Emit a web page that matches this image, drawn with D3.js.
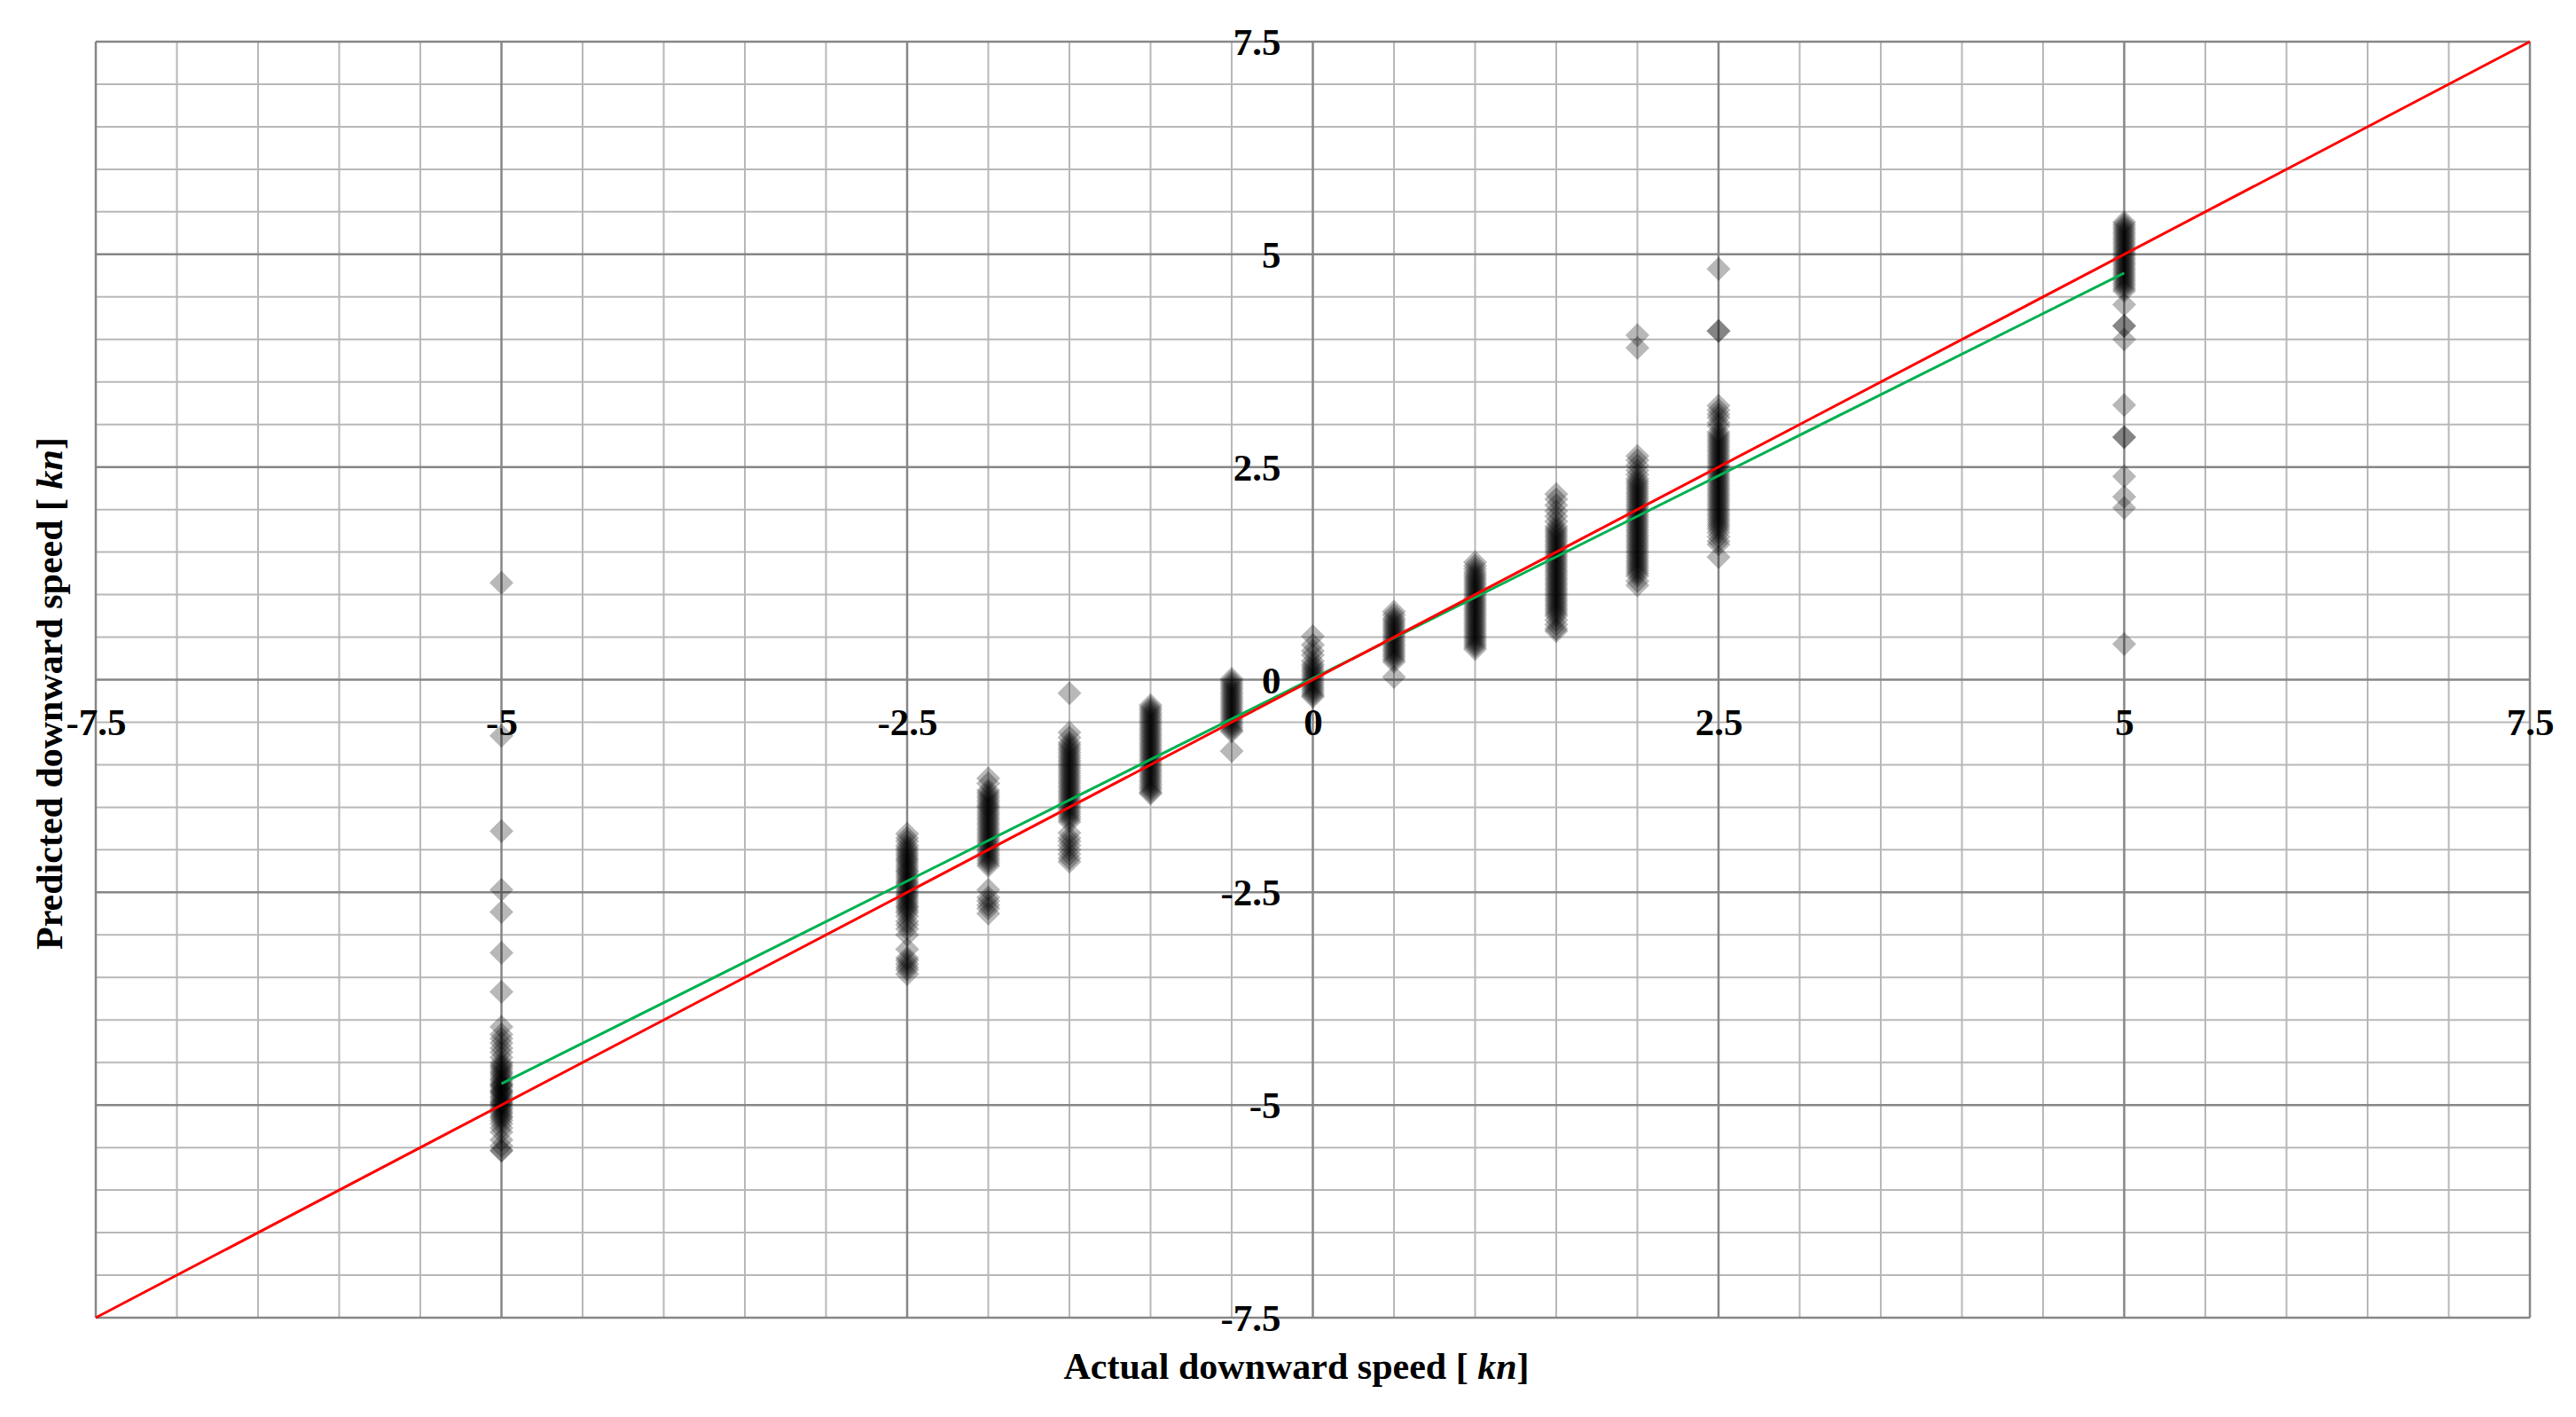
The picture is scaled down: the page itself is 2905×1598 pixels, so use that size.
<!DOCTYPE html>
<meta charset="utf-8">
<style>
body { margin: 0; background: #fff; }
.chart text { font-family: "Liberation Serif", serif; font-weight: bold; fill: #000; }
.tick-label { font-size: 43px; }
.axis-title { font-size: 42px; }
</style>
<svg class="chart"></svg>
<script src="https://cdn.jsdelivr.net/npm/d3@7"></script>
<script>

// actual speeds (x) where measurements were taken
var actualSpeeds = [-5, -2.5, -2, -1.5, -1, -0.5, 0, 0.5, 1, 1.5, 2, 2.5, 5];

// predicted speeds, one list per actual speed
var predAtMinus5 = [1.14, -0.66, -1.78, -2.47, -2.73, -3.21, -3.67, -4.08, -4.17, -4.22, -4.27, -4.33, -4.38, -4.44,
  -4.50, -4.53, -4.55, -4.58, -4.61, -4.63, -4.66, -4.69, -4.71, -4.74, -4.76, -4.77, -4.79, -4.82, -4.84, -4.85,
  -4.87, -4.90, -4.92, -4.95, -4.97, -4.98, -5.00, -5.03, -5.05, -5.08, -5.10, -5.13, -5.15, -5.18, -5.22, -5.27,
  -5.32, -5.41, -5.48, -5.53, -5.54];
var predAtMinus2_5 = [-1.81, -1.86, -1.90, -1.95, -1.98, -2.01, -2.04, -2.07, -2.10, -2.12, -2.15, -2.18, -2.21,
  -2.24, -2.26, -2.29, -2.32, -2.35, -2.38, -2.40, -2.43, -2.46, -2.49, -2.52, -2.54, -2.57, -2.60, -2.63, -2.66,
  -2.68, -2.71, -2.74, -2.78, -2.84, -2.88, -2.93, -3.00, -3.17, -3.27, -3.30, -3.34, -3.38, -3.41, -3.46];
var predAtMinus2 = [-1.16, -1.22, -1.30, -1.33, -1.36, -1.39, -1.42, -1.45, -1.48, -1.50, -1.53, -1.56, -1.59,
  -1.62, -1.65, -1.68, -1.71, -1.74, -1.77, -1.80, -1.83, -1.86, -1.89, -1.92, -1.95, -1.98, -2.01, -2.04, -2.07,
  -2.10, -2.13, -2.16, -2.19, -2.47, -2.56, -2.60, -2.65, -2.69, -2.75];
var predAtMinus1_5 = [-0.16, -0.62, -0.68, -0.74, -0.77, -0.80, -0.83, -0.86, -0.89, -0.92, -0.95, -0.98, -1.01,
  -1.04, -1.07, -1.10, -1.13, -1.16, -1.19, -1.22, -1.25, -1.28, -1.31, -1.34, -1.37, -1.40, -1.43, -1.46, -1.49,
  -1.52, -1.55, -1.58, -1.61, -1.64, -1.67, -1.80, -1.86, -1.90, -1.95, -2.00, -2.05, -2.10, -2.14];
var predAtMinus1 = [-0.30, -0.33, -0.36, -0.39, -0.42, -0.45, -0.48, -0.51, -0.54, -0.57, -0.60, -0.63, -0.66,
  -0.69, -0.72, -0.75, -0.78, -0.81, -0.84, -0.87, -0.90, -0.93, -0.96, -0.99, -1.02, -1.05, -1.08, -1.11, -1.14,
  -1.17, -1.20, -1.23, -1.26, -1.29, -1.32, -1.34];
var predAtMinus0_5 = [0.01, -0.02, -0.05, -0.08, -0.11, -0.14, -0.17, -0.20, -0.23, -0.26, -0.29, -0.32, -0.35,
  -0.38, -0.41, -0.44, -0.47, -0.50, -0.53, -0.56, -0.59, -0.61, -0.84];
var predAtZero = [0.51, 0.41, 0.34, 0.29, 0.22, 0.18, 0.15, 0.12, 0.09, 0.06, 0.03, 0.00, -0.03, -0.06, -0.09,
  -0.12, -0.15, -0.18, -0.20];
var predAt0_5 = [0.80, 0.76, 0.72, 0.69, 0.66, 0.63, 0.60, 0.57, 0.54, 0.51, 0.48, 0.45, 0.42, 0.39, 0.36, 0.33,
  0.30, 0.27, 0.24, 0.21, 0.03];
var predAt1 = [1.38, 1.34, 1.30, 1.26, 1.23, 1.20, 1.17, 1.14, 1.11, 1.08, 1.05, 1.02, 0.99, 0.96, 0.93, 0.90,
  0.87, 0.84, 0.81, 0.78, 0.75, 0.72, 0.69, 0.66, 0.63, 0.60, 0.57, 0.54, 0.51, 0.48, 0.45, 0.42, 0.39, 0.36];
var predAt1_5 = [2.18, 2.12, 2.05, 1.98, 1.92, 1.86, 1.80, 1.77, 1.74, 1.71, 1.68, 1.65, 1.62, 1.59, 1.56, 1.53,
  1.50, 1.47, 1.44, 1.41, 1.38, 1.35, 1.32, 1.29, 1.26, 1.23, 1.20, 1.17, 1.14, 1.11, 1.08, 1.05, 1.02, 0.99, 0.96,
  0.93, 0.90, 0.87, 0.84, 0.81, 0.78, 0.75, 0.70, 0.65, 0.60, 0.57];
var predAt2 = [4.05, 3.90, 2.63, 2.58, 2.52, 2.46, 2.41, 2.36, 2.33, 2.30, 2.27, 2.24, 2.21, 2.18, 2.15, 2.12,
  2.09, 2.06, 2.03, 2.00, 1.97, 1.94, 1.91, 1.88, 1.85, 1.82, 1.79, 1.76, 1.73, 1.70, 1.67, 1.64, 1.61, 1.58, 1.55,
  1.52, 1.49, 1.46, 1.43, 1.40, 1.37, 1.34, 1.31, 1.28, 1.25, 1.22, 1.16, 1.11];
var predAt2_5 = [4.83, 4.10, 4.10, 3.22, 3.17, 3.12, 3.08, 3.02, 2.98, 2.91, 2.88, 2.85, 2.82, 2.79, 2.76, 2.73,
  2.70, 2.67, 2.64, 2.61, 2.58, 2.55, 2.52, 2.49, 2.46, 2.43, 2.40, 2.37, 2.34, 2.31, 2.28, 2.25, 2.22, 2.19, 2.16,
  2.13, 2.10, 2.07, 2.04, 2.01, 1.98, 1.95, 1.92, 1.89, 1.86, 1.83, 1.80, 1.77, 1.73, 1.68, 1.63, 1.59, 1.44];
var predAt5 = [5.38, 5.35, 5.32, 5.29, 5.26, 5.23, 5.20, 5.17, 5.14, 5.11, 5.08, 5.05, 5.02, 4.99, 4.96, 4.93,
  4.90, 4.87, 4.84, 4.81, 4.78, 4.75, 4.72, 4.69, 4.66, 4.63, 4.60, 4.57, 4.41, 4.16, 4.16, 4.00, 3.23, 2.85, 2.85,
  2.39, 2.15, 2.02, 0.42];

var predicted = [predAtMinus5, predAtMinus2_5, predAtMinus2, predAtMinus1_5, predAtMinus1, predAtMinus0_5,
  predAtZero, predAt0_5, predAt1, predAt1_5, predAt2, predAt2_5, predAt5];

// trend line (green) and ideal line (red)
var fitX = [-5, 5], fitY = [-4.75, 4.78];
var idealX = [-7.5, 7.5], idealY = [-7.5, 7.5];

// axis ticks
var labelTicks = [-7.5, -5, -2.5, 0, 2.5, 5, 7.5];
var gridTicks = [-7.5, -7, -6.5, -6, -5.5, -5, -4.5, -4, -3.5, -3, -2.5, -2, -1.5, -1, -0.5, 0,
  0.5, 1, 1.5, 2, 2.5, 3, 3.5, 4, 4.5, 5, 5.5, 6, 6.5, 7, 7.5];

var width = 2905, height = 1598;
var margin = {top: 47, right: 52, bottom: 112, left: 108};

var svg = d3.select(".chart")
  .attr("width", width)
  .attr("height", height);

var x = d3.scaleLinear().domain([-7.5, 7.5]).range([margin.left, width - margin.right]);
var y = d3.scaleLinear().domain([-7.5, 7.5]).range([height - margin.bottom, margin.top]);

// grid: minor lines first, then the darker 2.5 lines
var grid = svg.append("g");
var minorTicks = gridTicks.filter(function(d) { return labelTicks.indexOf(d) < 0 });

grid.selectAll(".vminor")
  .data(minorTicks)
  .enter().append("line")
    .attr("x1", x).attr("x2", x)
    .attr("y1", y(-7.5)).attr("y2", y(7.5))
    .style("stroke", "#b8b8b8").style("stroke-width", 2);

grid.selectAll(".hminor")
  .data(minorTicks)
  .enter().append("line")
    .attr("y1", y).attr("y2", y)
    .attr("x1", x(-7.5)).attr("x2", x(7.5))
    .style("stroke", "#b8b8b8").style("stroke-width", 2);

grid.selectAll(".vmajor")
  .data(labelTicks)
  .enter().append("line")
    .attr("x1", x).attr("x2", x)
    .attr("y1", y(-7.5)).attr("y2", y(7.5))
    .style("stroke", "#868686").style("stroke-width", 2.5);

grid.selectAll(".hmajor")
  .data(labelTicks)
  .enter().append("line")
    .attr("y1", y).attr("y2", y)
    .attr("x1", x(-7.5)).attr("x2", x(7.5))
    .style("stroke", "#868686").style("stroke-width", 2.5);

// tick labels sit on the zero lines, like the original
var fmt = function(d) { return String(d) };

var xAxis = svg.append("g")
  .attr("transform", "translate(0," + y(0) + ")")
  .call(d3.axisBottom(x).tickValues(labelTicks).tickSize(0).tickFormat(fmt));
xAxis.select(".domain").remove();
xAxis.selectAll("text")
  .attr("class", "tick-label")
  .attr("y", 62).attr("dy", 0);

var yAxis = svg.append("g")
  .attr("transform", "translate(" + x(0) + ",0)")
  .call(d3.axisLeft(y).tickValues(labelTicks).tickSize(0).tickFormat(fmt));
yAxis.select(".domain").remove();
yAxis.selectAll("text")
  .attr("class", "tick-label")
  .attr("x", -36).attr("dy", "0.34em");
xAxis.attr("font-family", null).attr("font-size", null);
yAxis.attr("font-family", null).attr("font-size", null);

// scatter points
var points = [];
actualSpeeds.forEach(function(a, i) {
  predicted[i].forEach(function(p) { points.push({actual: a, predicted: p}) });
});

var diamond = "M0,-13.5L13.5,0L0,13.5L-13.5,0Z";

svg.append("g").selectAll("path")
  .data(points)
  .enter().append("path")
    .attr("d", diamond)
    .attr("transform", function(d) { return "translate(" + x(d.actual) + "," + y(d.predicted) + ")" })
    .style("fill", "#000")
    .style("fill-opacity", 0.28);

// lines
var line = d3.line()
  .x(function(d) { return x(d[0]) })
  .y(function(d) { return y(d[1]) });

svg.append("path")
  .datum(d3.zip(fitX, fitY))
  .attr("d", line)
  .style("fill", "none").style("stroke", "#00b050").style("stroke-width", 3);

svg.append("path")
  .datum(d3.zip(idealX, idealY))
  .attr("d", line)
  .style("fill", "none").style("stroke", "#ff0000").style("stroke-width", 3);

// axis titles
var xTitle = svg.append("text")
  .attr("class", "axis-title")
  .attr("x", 1462).attr("y", 1555)
  .attr("text-anchor", "middle")
  .text("Actual downward speed [ ");
xTitle.append("tspan").style("font-style", "italic").text("kn");
xTitle.append("tspan").text("]");

var yTitle = svg.append("text")
  .attr("class", "axis-title")
  .attr("transform", "translate(70,782) rotate(-90)")
  .attr("text-anchor", "middle")
  .text("Predicted downward speed [ ");
yTitle.append("tspan").style("font-style", "italic").text("kn");
yTitle.append("tspan").text("]");

</script>
